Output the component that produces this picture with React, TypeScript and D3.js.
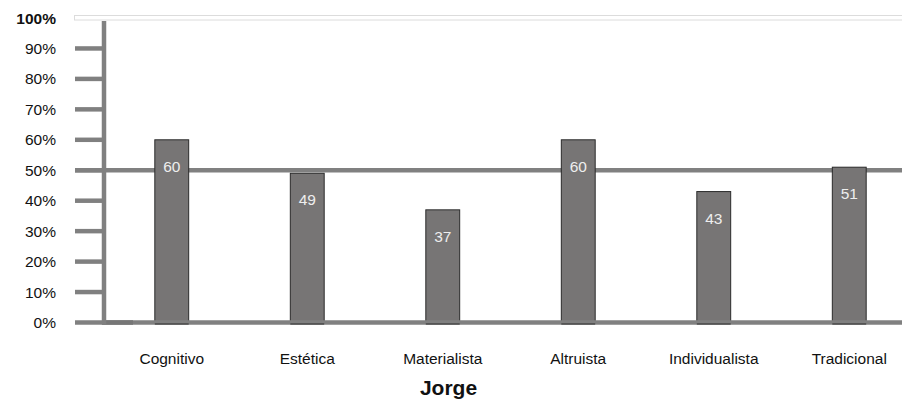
import React from "react";
import * as d3 from "d3";

const categories = ["Cognitivo", "Estética", "Materialista", "Altruista", "Individualista", "Tradicional"];
const values = [60, 49, 37, 60, 43, 51];
const yTicks = [0, 10, 20, 30, 40, 50, 60, 70, 80, 90, 100];
const title = "Jorge";

export default function App() {
  const W = 902, H = 400;
  const y = d3.scaleLinear().domain([0, 100]).range([322.5, 18]);
  const x = d3.scaleBand<string>().domain(categories).range([104, 917]).paddingInner(0.75).paddingOuter(0.375);
  const font = "'Liberation Sans', Arial, Helvetica, sans-serif";
  const gray = "#808080";
  return (
    <svg width={W} height={H} style={{ position: "absolute", left: 0, top: 0, background: "#fff" }} fontFamily={font}>
      <rect x={74.5} y={15.5} width={830} height={4.5} fill="none" stroke="#dcdcdc" strokeWidth={1} />
      {/* 50% line */}
      <line x1={75} x2={902} y1={y(50)} y2={y(50)} stroke={gray} strokeWidth={4.5} />
      {/* ticks */}
      {yTicks.filter(t => t > 0 && t < 100).map(t => (
        <line key={t} x1={75} x2={104} y1={y(t)} y2={y(t)} stroke={gray} strokeWidth={4.5} />
      ))}
      {/* bars */}
      {categories.map((c, i) => (
        <rect key={c} x={x(c)!} y={y(values[i])} width={x.bandwidth()} height={y(0) - y(values[i])}
          fill="#777575" stroke="#2a2a2a" strokeWidth={1} />
      ))}
      {/* zero line */}
      <line x1={75} x2={902} y1={y(0)} y2={y(0)} stroke={gray} strokeWidth={4.5} />
      <line x1={102} x2={133} y1={y(0)} y2={y(0)} stroke="#767676" strokeWidth={4.5} />
      {/* y axis */}
      <line x1={104} x2={104} y1={21} y2={y(0) + 2} stroke={gray} strokeWidth={4.5} />
      {categories.map((c, i) => (
        <line key={"b" + c} x1={x(c)!} x2={x(c)! + x.bandwidth()} y1={y(0) + 1.5} y2={y(0) + 1.5} stroke="#2a2a2a" strokeWidth={1} />
      ))}
      {/* value labels */}
      {categories.map((c, i) => (
        <text key={"v" + c} x={x(c)! + x.bandwidth() / 2} y={y(values[i]) + 32} textAnchor="middle" fontSize={15.5} fill="#eeeeee">
          {values[i]}
        </text>
      ))}
      {/* y tick labels */}
      {yTicks.map(t => (
        <text key={"t" + t} x={56} y={y(t) + 5.5} textAnchor="end" fontSize={15.5} fill="#111"
          fontWeight={t === 100 ? "bold" : "normal"}>
          {t}%
        </text>
      ))}
      {/* category labels */}
      {categories.map(c => (
        <text key={"c" + c} x={x(c)! + x.bandwidth() / 2} y={364} textAnchor="middle" fontSize={15.5} fill="#111">{c}</text>
      ))}
      <text x={448.5} y={395} textAnchor="middle" fontSize={21} fontWeight="bold" fill="#111">{title}</text>
    </svg>
  );
}
